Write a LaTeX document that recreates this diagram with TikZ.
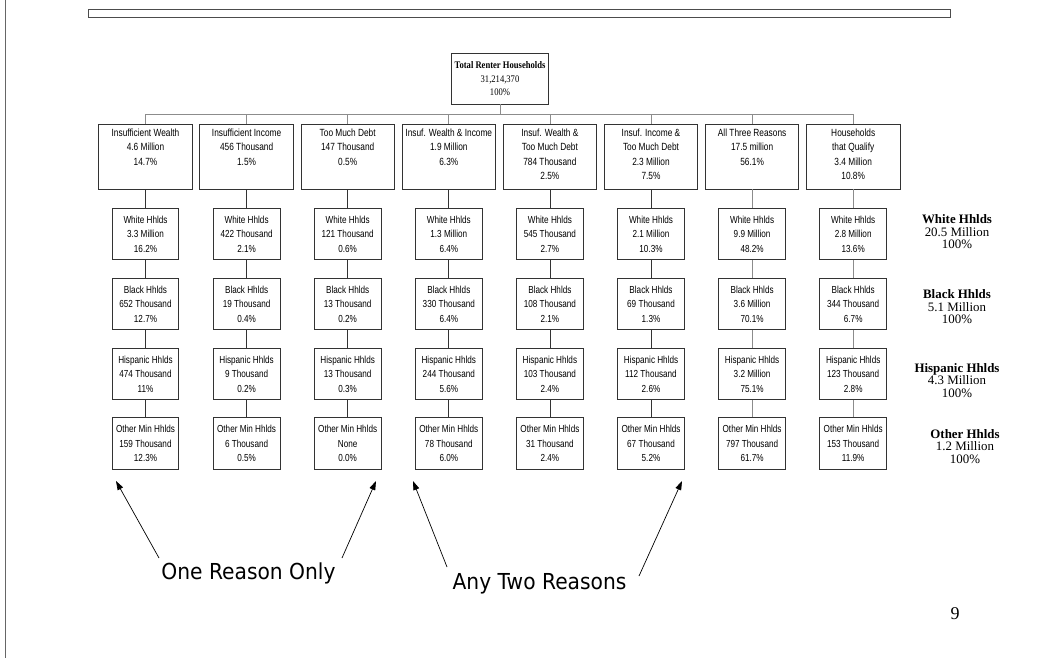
\documentclass[tikz,border=0pt]{standalone}
\usepackage{fontspec}
\setmainfont{Liberation Serif}
\newfontfamily\boxfont[FakeStretch=0.8]{Liberation Sans}
\newfontfamily\narrowserif[FakeStretch=0.85]{Liberation Serif}
\newfontfamily\annofont[FakeStretch=0.92]{DejaVu Sans}
\usetikzlibrary{arrows.meta}
\begin{document}
\begin{tikzpicture}[x=1pt,y=-1pt,
  topbox/.style={draw=black!80, line width=0.9pt, minimum width=93.5pt, minimum height=65pt, inner sep=0pt},
  toptext/.style={anchor=north, inner sep=0pt, align=center, font=\boxfont\fontsize{10.4}{14.2}\selectfont},
  racebox/.style={draw=black!80, line width=0.9pt, minimum width=66.7pt, minimum height=51.5pt, inner sep=0pt, align=center, font=\boxfont\fontsize{10.2}{14.6}\selectfont},
  totalbox/.style={draw=black!80, line width=0.9pt, minimum width=96.6pt, minimum height=50.7pt, inner sep=0pt, align=center, font=\narrowserif\fontsize{10.1}{13.3}\selectfont},
  conn/.style={draw=black!80, line width=0.8pt},
  lconn/.style={draw=black!45, line width=0.8pt},
  sumlabel/.style={inner sep=0pt, align=center, font=\fontsize{12.9}{12.5}\selectfont},
  anno/.style={inner sep=0pt, anchor=base, font=\annofont\fontsize{22}{24}\selectfont},
  pointer/.style={draw=black, line width=0.7pt, -{Triangle[width=6pt,length=9pt]}}
]
\useasboundingbox (0,0) rectangle (1051,658);
% frame pieces
\draw[black!60, line width=0.8pt] (5,0) coordinate (vl1) -- (5,658) coordinate (vl2);
\draw[black!70, line width=0.9pt] (88,9) rectangle (950,17);

% total
\node[totalbox] (total) at (500,78.7) {\textbf{Total Renter Households}\\31,214,370\\100\%};
\draw[lconn] (total.south) -- ++(0,10) coordinate (bus);

% boxes
\foreach \i/\x in {1/145.5,2/246.6,3/347.7,4/448.8,5/549.9,6/651.0,7/752.1,8/853.2}{
  \node[topbox] (t\i) at (\x,156.5) {};
  \node[racebox] (w\i) at (\x,234) {};
  \node[racebox] (b\i) at (\x,304) {};
  \node[racebox] (h\i) at (\x,374) {};
  \node[racebox] (o\i) at (\x,443.5) {};
}
\foreach \i in {1,...,6}{
  \draw[lconn] (bus) -| (t\i.north);
  \draw[conn] (t\i.south) -- (w\i.north);
  \draw[conn] (w\i.south) -- (b\i.north);
  \draw[conn] (b\i.south) -- (h\i.north);
  \draw[conn] (h\i.south) -- (o\i.north);
}
\foreach \i in {7,8}{
  \draw[lconn] (bus) -| (t\i.north);
  \draw[lconn] (t\i.south) -- (w\i.north);
  \draw[lconn] (w\i.south) -- (b\i.north);
  \draw[lconn] (b\i.south) -- (h\i.north);
  \draw[lconn] (h\i.south) -- (o\i.north);
}

% top row texts
\node[toptext] (tt1) at ([yshift=-4pt]t1.north) {\rule{0pt}{9pt}Insufficient Wealth\\4.6 Million\\14.7\%};
\node[toptext] (tt2) at ([yshift=-4pt]t2.north) {\rule{0pt}{9pt}Insufficient Income\\456 Thousand\\1.5\%};
\node[toptext] (tt3) at ([yshift=-4pt]t3.north) {\rule{0pt}{9pt}Too Much Debt\\147 Thousand\\0.5\%};
\node[toptext] (tt4) at ([yshift=-4pt]t4.north) {\rule{0pt}{9pt}Insuf. Wealth \& Income\\1.9 Million\\6.3\%};
\node[toptext] (tt5) at ([yshift=-4pt]t5.north) {\rule{0pt}{9pt}Insuf. Wealth \&\\Too Much Debt\\784 Thousand\\2.5\%};
\node[toptext] (tt6) at ([yshift=-4pt]t6.north) {\rule{0pt}{9pt}Insuf. Income \&\\Too Much Debt\\2.3 Million\\7.5\%};
\node[toptext] (tt7) at ([yshift=-4pt]t7.north) {\rule{0pt}{9pt}All Three Reasons\\17.5 million\\56.1\%};
\node[toptext] (tt8) at ([yshift=-4pt]t8.north) {\rule{0pt}{9pt}Households\\that Qualify\\3.4 Million\\10.8\%};

% race texts
\foreach \i/\a/\b in {1/3.3 Million/16.2,2/422 Thousand/2.1,3/121 Thousand/0.6,4/1.3 Million/6.4,5/545 Thousand/2.7,6/2.1 Million/10.3,7/9.9 Million/48.2,8/2.8 Million/13.6}{
  \node[racebox, draw=none] (wt\i) at (w\i) {White Hhlds\\\a\\\b\%};
}
\foreach \i/\a/\b in {1/652 Thousand/12.7,2/19 Thousand/0.4,3/13 Thousand/0.2,4/330 Thousand/6.4,5/108 Thousand/2.1,6/69 Thousand/1.3,7/3.6 Million/70.1,8/344 Thousand/6.7}{
  \node[racebox, draw=none] (bt\i) at (b\i) {Black Hhlds\\\a\\\b\%};
}
\foreach \i/\a/\b in {1/474 Thousand/11,2/9 Thousand/0.2,3/13 Thousand/0.3,4/244 Thousand/5.6,5/103 Thousand/2.4,6/112 Thousand/2.6,7/3.2 Million/75.1,8/123 Thousand/2.8}{
  \node[racebox, draw=none] (ht\i) at (h\i) {Hispanic Hhlds\\\a\\\b\%};
}
\foreach \i/\a/\b in {1/159 Thousand/12.3,2/6 Thousand/0.5,3/None/0.0,4/78 Thousand/6.0,5/31 Thousand/2.4,6/67 Thousand/5.2,7/797 Thousand/61.7,8/153 Thousand/11.9}{
  \node[racebox, draw=none] (ot\i) at (o\i) {Other Min Hhlds\\\a\\\b\%};
}

% totals on right
\node[sumlabel] (sw) at (957,231.8) {\textbf{White Hhlds}\\20.5 Million\\100\%};
\node[sumlabel] (sb) at (957,306.7) {\textbf{Black Hhlds}\\5.1 Million\\100\%};
\node[sumlabel] (sh) at (957,380.5) {\textbf{Hispanic Hhlds}\\4.3 Million\\100\%};
\node[sumlabel] (so) at (965,446.2) {\textbf{Other Hhlds}\\1.2 Million\\100\%};

% annotations
\node[anno] (one) at (248.5,579) {One Reason Only};
\node[anno] (two) at (539.5,589) {Any Two Reasons};
\coordinate (a1s) at (159,558); \coordinate (a1e) at (116,481);
\coordinate (a2s) at (342,558); \coordinate (a2e) at (376,481);
\coordinate (a3s) at (447,567); \coordinate (a3e) at (413,481);
\coordinate (a4s) at (639,576); \coordinate (a4e) at (682,481);
\draw[pointer] (a1s) -- (a1e);
\draw[pointer] (a2s) -- (a2e);
\draw[pointer] (a3s) -- (a3e);
\draw[pointer] (a4s) -- (a4e);

\node[inner sep=0pt, font=\fontsize{18}{20}\selectfont] (pg) at (955,614) {9};
\end{tikzpicture}
\end{document}
